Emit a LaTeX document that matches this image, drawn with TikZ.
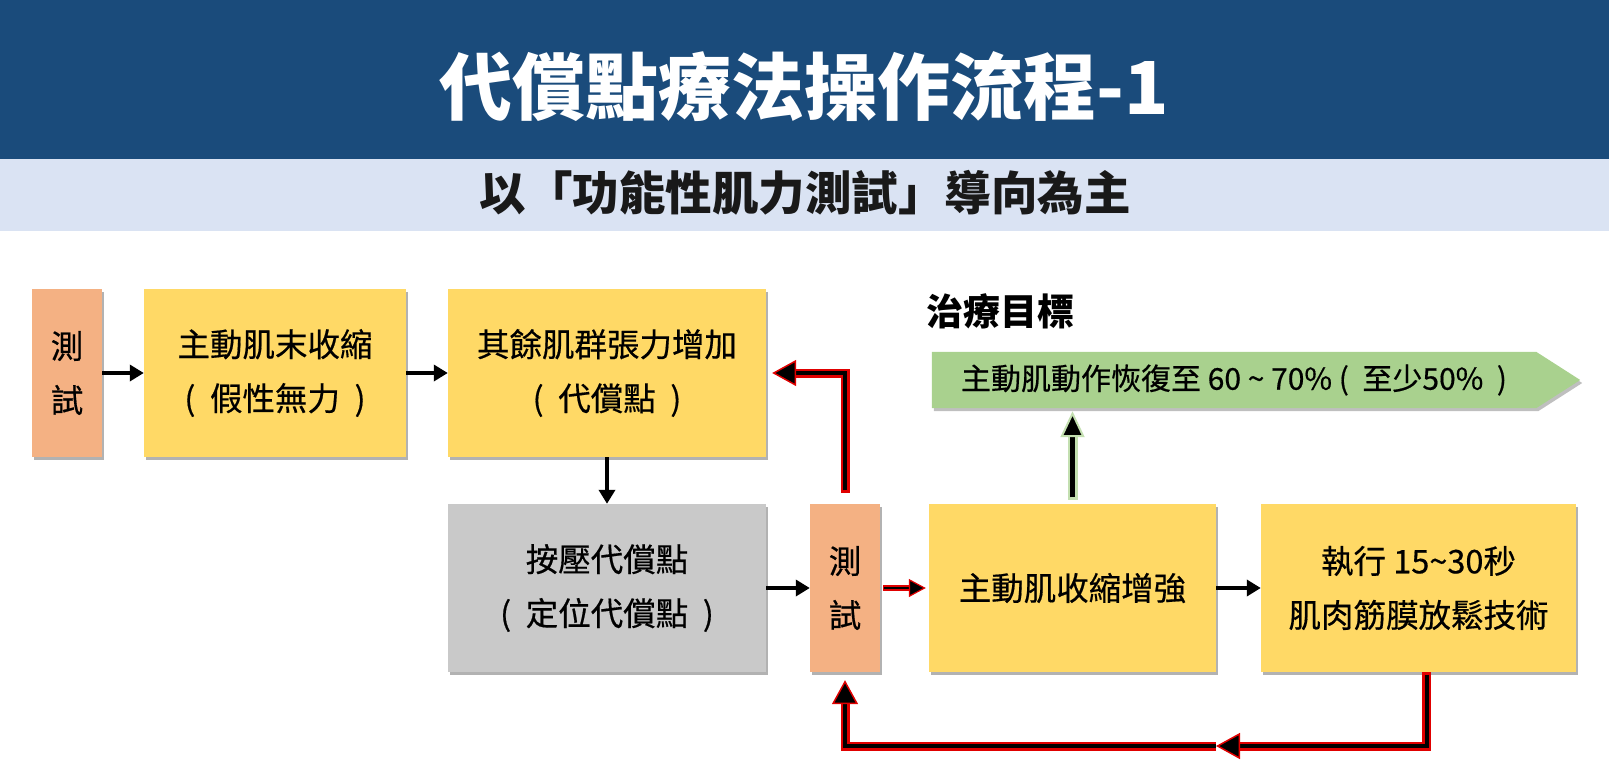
\documentclass[tikz,border=0pt]{standalone}
\usepackage{fontspec}
\setmainfont{Noto Sans CJK TC}
\newfontfamily\medfont[FakeBold=0.5]{Noto Sans CJK TC}
\usetikzlibrary{arrows.meta,shadows,calc,backgrounds}
\definecolor{titleblue}{HTML}{1A4B7B}
\definecolor{bandblue}{HTML}{DAE3F3}
\definecolor{boxyellow}{HTML}{FFD966}
\definecolor{boxorange}{HTML}{F4B183}
\definecolor{boxgray}{HTML}{C9C9C9}
\definecolor{goalgreen}{HTML}{A9D18E}
\definecolor{arrowred}{HTML}{E00000}
\newcommand{\lp}{(\hspace{0.45em}}
\newcommand{\rp}{\hspace{0.45em})}
\begin{document}
\begin{tikzpicture}[x=1pt,y=-1pt,
  box/.style={rectangle, inner sep=0pt, align=center, minimum height=168pt,
    font=\medfont\fontsize{32.5}{54}\selectfont, text=black,
    drop shadow={shadow xshift=2pt, shadow yshift=-3pt, opacity=0.3, fill=black}},
  ybox/.style={box, fill=boxyellow},
  obox/.style={box, fill=boxorange, minimum width=70pt},
  gbox/.style={box, fill=boxgray},
  blackarrow/.style={draw=black, line width=4pt, -{Triangle[length=14pt,width=16pt]}},
  redouter/.style={draw=arrowred, line width=9pt, line join=miter},
  redinner/.style={draw=black, line width=4pt, line join=miter,
    -{Triangle[length=24pt,width=26pt,color=arrowred,fill=black,line width=1.5pt]}},
  smallredouter/.style={draw=arrowred, line width=5.5pt},
  smallredinner/.style={draw=black, line width=2pt,
    -{Triangle[length=17pt,width=18pt,color=arrowred,fill=black,line width=1.2pt]}},
  greenouter/.style={draw=goalgreen!70!white, line width=10pt},
  greeninner/.style={draw=black, line width=5pt,
    -{Triangle[length=26pt,width=24pt,color=goalgreen!70!white,fill=black,line width=2pt]}},
]
\useasboundingbox (0,0) rectangle (1609,772);
% header bands
\fill[titleblue] (0,0) rectangle (1609,159);
\fill[bandblue] (0,159) rectangle (1609,231);
\node[text=white, font=\fontsize{73}{77}\selectfont\bfseries] (title) at (804,87) {代償點療法操作流程-1};
\node[text=black!90, font=\fontsize{46.5}{50}\selectfont\bfseries] (subtitle) at (805,193) {以「功能性肌力測試」導向為主};

% boxes
\node[obox] (b1) at (67,373) {測\\試};
\node[ybox, minimum width=262pt] (b2) at (275,373) {主動肌末收縮\\\lp 假性無力\rp};
\node[ybox, minimum width=318pt] (b3) at (607,373) {其餘肌群張力增加\\\lp 代償點\rp};
\node[gbox, minimum width=318pt] (b4) at (607,588) {按壓代償點\\\lp 定位代償點\rp};
\node[obox] (t2) at (845,588) {測\\試};
\node[ybox, minimum width=287pt] (b5) at (1072.5,588) {主動肌收縮增強};
\node[ybox, minimum width=315pt] (b6) at (1418.5,588) {執行 15\textasciitilde30秒\\肌肉筋膜放鬆技術};

% goal
\node[font=\fontsize{37}{40}\selectfont\bfseries] (goaltitle) at (1000,311) {治療目標};
\node[rectangle, inner sep=0pt, minimum width=604pt, minimum height=56pt,
  font=\medfont\fontsize{30}{32}\selectfont] (goal) at (1234,380) {主動肌動作恢復至 60 \textasciitilde{} 70\% \lp 至少50\%\rp};
\begin{scope}[on background layer]
  \fill[black, opacity=0.25] ($(goal.north west)+(2,3)$) -- ($(goal.north east)+(2,3)$) -- ($(goal.east)+(46,3)$) -- ($(goal.south east)+(2,3)$) -- ($(goal.south west)+(2,3)$) -- cycle;
  \fill[goalgreen] (goal.north west) -- (goal.north east) -- ($(goal.east)+(44,0)$) -- (goal.south east) -- (goal.south west) -- cycle;
\end{scope}

% black arrows
\draw[blackarrow] (b1.east) -- (b2.west);
\draw[blackarrow] (b2.east) -- (b3.west);
\draw[blackarrow] (b3.south) -- (b4.north);
\draw[blackarrow] (b4.east) -- (t2.west);
\draw[blackarrow] (b5.east) -- (b6.west);

% small red arrow
\draw[smallredouter, shorten <=3pt, shorten >=12pt] (t2.east) -- (b5.west);
\draw[smallredinner, shorten <=4pt, shorten >=3pt] (t2.east) -- (b5.west);

% red feedback arrow to b3
\coordinate (b3r) at ($(b3.east)+(6,0)$);
\draw[redouter, shorten <=11pt, shorten >=12pt] (t2.north) |- (b3r);
\draw[redinner, shorten <=13.5pt] (t2.north) |- (b3r);

% bottom loop
\coordinate (m) at (1216,746);
\coordinate (b6s) at ($(b6.south)+(8,0)$);
\draw[redouter, shorten >=20pt] (m) -| (t2.south);
\draw[redinner, shorten >=8pt] (m) -| (t2.south);
\draw[redouter, shorten >=12pt] (b6s) |- (m);
\draw[redinner, shorten <=2.5pt] (b6s) |- (m);

% green arrow
\draw[greenouter, shorten <=4pt, shorten >=14pt] (b5.north) -- (b5.north |- goal.south);
\draw[greeninner, shorten <=6.5pt, shorten >=3pt] (b5.north) -- (b5.north |- goal.south);
\end{tikzpicture}
\end{document}
